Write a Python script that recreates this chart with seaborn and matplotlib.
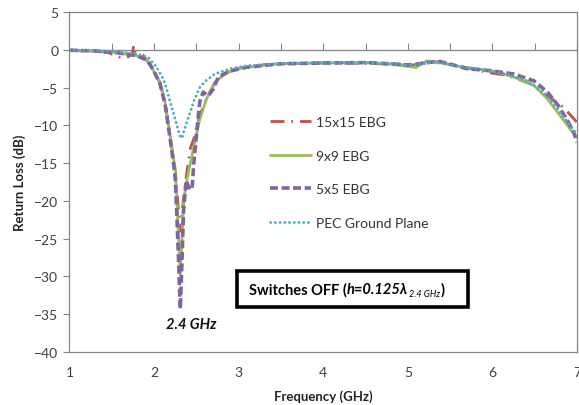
import matplotlib
matplotlib.use("Agg")
import matplotlib.pyplot as plt
import matplotlib.patches as mpatches
import seaborn as sns
import pandas as pd

# ---- series: frequency (GHz) and return loss (dB) ----
f_15x15 = [1.0, 1.3, 1.45, 1.52, 1.6, 1.67, 1.72, 1.745, 1.76, 1.775, 1.8, 1.86, 1.9, 1.95, 2.0, 2.07, 2.13,
           2.19, 2.25, 2.28, 2.31, 2.35, 2.39, 2.43, 2.47, 2.54, 2.62, 2.72, 2.86, 3.02, 3.3,
           3.5, 4.0, 4.5, 4.8, 5.0, 5.1, 5.2, 5.35, 5.5, 5.7, 5.94, 6.18, 6.45, 6.6, 6.84, 7.0]
rl_15x15 = [-0.1, -0.2, -0.35, -0.65, -1.0, -1.1, -0.75, -0.4, 0.6, -0.2, -0.3, -0.6, -1.2, -1.9, -2.9, -4.4, -7.0,
            -11.5, -16.0, -20.0, -24.0, -19.5, -16.0, -13.0, -11.8, -8.7, -6.5, -4.3, -3.0, -2.45, -2.0,
            -1.85, -1.75, -1.8, -1.9, -2.0, -2.0, -1.8, -1.6, -1.9, -2.4, -3.0, -3.4, -4.5, -5.7, -7.6, -9.6]

f_9x9 = [1.0, 1.3, 1.5, 1.6, 1.7, 1.8, 1.9, 1.95, 2.0, 2.07, 2.13, 2.19, 2.25, 2.27, 2.29, 2.31,
         2.33, 2.35, 2.39, 2.465, 2.54, 2.62, 2.72, 2.86, 3.02, 3.25, 3.5, 4.0, 4.5, 4.8, 5.0,
         5.1, 5.17, 5.23, 5.3, 5.4, 5.6, 5.8, 6.0, 6.25, 6.49, 6.65, 6.8, 6.92, 7.0]
rl_9x9 = [-0.1, -0.15, -0.3, -0.45, -0.65, -0.8, -1.3, -1.9, -2.9, -4.3, -6.9, -11.4, -15.8, -20.0, -25.0, -29.8,
          -25.0, -20.0, -17.1, -13.1, -9.2, -6.5, -4.3, -3.0, -2.45, -2.05, -1.85, -1.75, -1.7, -1.9, -2.2,
          -2.35, -1.8, -1.45, -1.7, -1.75, -2.2, -2.5, -2.8, -3.6, -4.7, -6.5, -8.7, -10.5, -11.6]

f_5x5 = [1.0, 1.3, 1.5, 1.7, 1.8, 1.9, 1.95, 2.0, 2.07, 2.13, 2.19, 2.23, 2.25, 2.27, 2.29, 2.31,
         2.33, 2.35, 2.38, 2.42, 2.45, 2.47, 2.5, 2.54, 2.58, 2.64, 2.7, 2.76, 2.9, 3.1, 3.5, 4.0,
         4.5, 4.8, 5.0, 5.1, 5.2, 5.3, 5.38, 5.5, 5.7, 6.0, 6.25, 6.49, 6.65, 6.78, 6.9, 6.96, 7.0]
rl_5x5 = [-0.05, -0.15, -0.3, -0.6, -0.8, -1.3, -1.9, -2.9, -4.5, -7.2, -11.8, -15.0, -17.0, -22.0, -28.0, -34.3,
          -28.0, -21.0, -17.3, -18.5, -18.3, -15.0, -11.4, -6.9, -5.6, -6.1, -5.2, -3.6, -2.8, -2.3, -1.85, -1.75,
          -1.7, -1.85, -2.0, -1.9, -1.75, -1.6, -1.55, -1.9, -2.5, -2.8, -3.2, -4.1, -5.6, -7.4, -9.6, -10.9, -12.2]

f_pec = [1.0, 1.3, 1.5, 1.7, 1.85, 1.93, 2.03, 2.11, 2.15, 2.19, 2.23, 2.27, 2.31, 2.33, 2.36, 2.42,
         2.47, 2.54, 2.6, 2.72, 2.9, 3.1, 3.5, 4.0, 4.5, 4.8, 5.0, 5.15, 5.25, 5.4, 5.6, 5.8, 6.0,
         6.2, 6.41, 6.6, 6.77, 6.92, 7.0]
rl_pec = [-0.05, -0.1, -0.2, -0.4, -0.7, -1.0, -2.3, -3.9, -5.2, -6.9, -8.4, -10.0, -11.5, -11.7, -10.5, -8.5,
          -6.8, -5.0, -4.2, -3.2, -2.5, -2.1, -1.8, -1.7, -1.7, -1.8, -2.0, -1.9, -1.7, -1.7, -2.2, -2.5, -2.9,
          -3.3, -4.1, -5.6, -7.8, -10.0, -11.2]

series_names = ["15x15 EBG", "9x9 EBG", "5x5 EBG", "PEC Ground Plane"]
x_ticks = [1, 2, 3, 4, 5, 6, 7]
y_ticks = [5, 0, -5, -10, -15, -20, -25, -30, -35, -40]
x_lim = (1, 7)
y_lim = (-40, 5)

sns.set_theme(style="white")
plt.rcParams["font.family"] = ["Lato", "DejaVu Sans"]

fig = plt.figure(figsize=(5.79, 4.06), dpi=100)
ax = fig.add_axes([0.12, 0.1305, 0.8765, 0.8375])

styles = [
    dict(color="#C0504D", lw=2.0, linestyle=(0, (5, 2.5, 0.6, 2.5)), dash_capstyle="butt"),
    dict(color="#9BBB59", lw=2.0, linestyle="-"),
    dict(color="#8064A2", lw=2.6, linestyle=(0, (2.2, 1.0))),
    dict(color="#4BACC6", lw=2.0, linestyle=(0, (0.1, 1.6)), dash_capstyle="round"),
]
data = [(f_15x15, rl_15x15), (f_9x9, rl_9x9), (f_5x5, rl_5x5), (f_pec, rl_pec)]

for (fx, ry), name, st in zip(data, series_names, styles):
    df = pd.DataFrame({"f": fx, "rl": ry})
    sns.lineplot(data=df, x="f", y="rl", ax=ax, label=name, sort=False, **st)

ax.set_xlim(*x_lim)
ax.set_ylim(*y_lim)
ax.set_xticks(x_ticks)
ax.set_yticks(y_ticks)
ax.tick_params(axis="x", length=0, pad=10, labelsize=10, colors="#404040")
ax.tick_params(axis="y", length=4, width=0.8, color="#868686", labelsize=10,
               labelcolor="#404040", left=True, pad=4)
for s in ax.spines.values():
    s.set_color("#868686")
    s.set_linewidth(0.9)

# horizontal axis crossing at 0 dB with half-GHz tick marks
zero_frac = (0 - y_lim[0]) / (y_lim[1] - y_lim[0])
sec = ax.secondary_xaxis(zero_frac)
sec.set_xticks([x_lim[0] + 0.5 * i for i in range(13)])
sec.tick_params(axis="x", direction="out", length=5, width=0.8, color="#868686",
                labeltop=False, labelbottom=False)
for side in ("top", "bottom"):
    sec.spines[side].set_color("#868686")
    sec.spines[side].set_linewidth(0.9)

ax.set_xlabel("Frequency (GHz)", fontsize=9.5, fontweight="bold", color="#222222", labelpad=8)
ax.set_ylabel("Return Loss (dB)", fontsize=9.5, fontweight="bold", color="#222222", labelpad=6)

leg = ax.legend(loc="upper left", bbox_to_anchor=(0.385, 0.71), frameon=False,
                fontsize=10, labelspacing=1.55, handlelength=2.9, handletextpad=0.4,
                borderaxespad=0)
for t in leg.get_texts():
    t.set_color("#333333")

# condition label in a heavy frame
ax.add_patch(mpatches.Rectangle((0.331, 0.132), 0.455, 0.106, transform=ax.transAxes,
                                fc="white", ec="black", lw=2.6, zorder=5))
fs = 10.5
p1 = ax.text(0.354, 0.185, "Switches OFF (", transform=ax.transAxes, fontsize=fs,
             fontweight="bold", ha="left", va="center", color="black", zorder=6)
p2 = ax.annotate("h=0.125λ", xy=(1, 0), xycoords=p1, fontsize=fs, fontweight="bold",
                 fontstyle="italic", ha="left", va="bottom", color="black", zorder=6)
p3 = ax.annotate("2.4 GHz", xy=(1, 0), xycoords=p2, xytext=(0.5, -1.5), textcoords="offset points",
                 fontsize=6.5, fontstyle="italic", ha="left", va="bottom", color="black", zorder=6)
ax.annotate(")", xy=(1, 0), xycoords=(p3, p2), xytext=(0.5, 0), textcoords="offset points",
            fontsize=fs, fontweight="bold", ha="left", va="bottom", color="black", zorder=6)

ax.text(2.44, -36.3, "2.4 GHz", fontsize=10.5, fontweight="bold", fontstyle="italic",
        ha="center", va="center", color="#111111")

fig.savefig("out.png", dpi=100)
